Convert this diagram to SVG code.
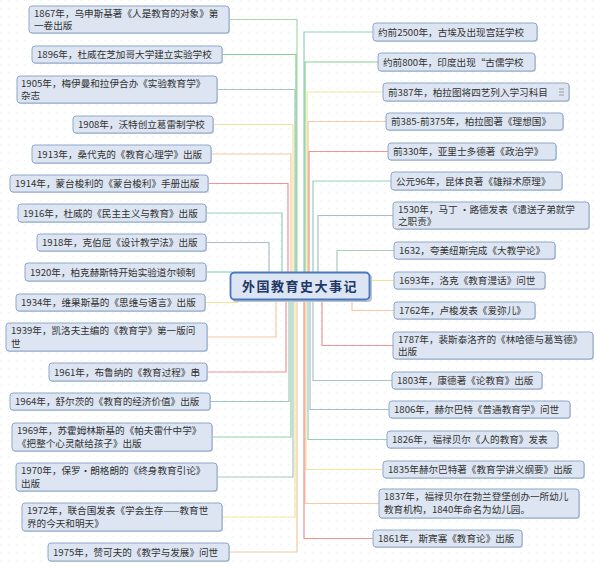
<svg xmlns="http://www.w3.org/2000/svg" width="600" height="567" viewBox="0 0 600 567">
<style>
.nb{fill:#dce5f1;stroke:#8ea8cb;stroke-width:1}
.sh{fill:#c9d0da}
.t{font-family:"Noto Sans CJK SC","Noto Sans",sans-serif;font-size:9.6px;fill:#333}
.c{fill:none;stroke-width:1.2}
.g1{stroke:#a9d9a4}.g2{stroke:#86cf8e}.tl{stroke:#92cfc4}.gr{stroke:#a3c8c4}.gb{stroke:#aabdcc}
.ye{stroke:#f2e39c}.or{stroke:#f6c8a3}.rd{stroke:#ee9494}.gg{stroke:#a9cfb0}.gt{stroke:#8fd3a0}
.ct{font-family:"Noto Sans CJK SC",sans-serif;font-size:13px;font-weight:bold;fill:#1f3864;letter-spacing:1.5px}
</style>
<defs>
<pattern id="dots" width="8" height="8" patternUnits="userSpaceOnUse">
<rect x="0" y="0" width="1" height="1" fill="#f0f0f0"/>
</pattern>
</defs>
<rect width="600" height="567" fill="#ffffff"/>
<rect width="600" height="567" fill="url(#dots)"/>

<g id="connectors">
<path class="c g1" d="M229,19.5H297V272"/>
<path class="c g2" d="M222,54.5H296V272"/>
<path class="c gr" d="M217,89.5H295V272"/>
<path class="c ye" d="M213,124.5H293V272"/>
<path class="c or" d="M211,154H291V272"/>
<path class="c rd" d="M208,183.5H288V272"/>
<path class="c tl" d="M206,213H282V272"/>
<path class="c gb" d="M206,242.5H269V272"/>
<path class="c tl" d="M206,272H232"/>
<path class="c ye" d="M205,302.5H238V299"/>
<path class="c or" d="M207,337H276V299"/>
<path class="c rd" d="M207,372H286V299"/>
<path class="c gr" d="M210,401.5H289V299"/>
<path class="c gt" d="M212,437H291V299"/>
<path class="c gr" d="M217,477H293V299"/>
<path class="c ye" d="M222,517H295V299"/>
<path class="c or" d="M229,552H297V299"/>

<path class="c tl" d="M304,272V32H373"/>
<path class="c g2" d="M305,272V62H378"/>
<path class="c ye" d="M307,272V92H383"/>
<path class="c or" d="M308,272V121.5H386"/>
<path class="c rd" d="M309,272V151.5H388"/>
<path class="c tl" d="M313,272V181H391"/>
<path class="c gb" d="M318,272V215.5H393"/>
<path class="c gg" d="M337,272V250.5H394"/>
<path class="c ye" d="M369,280.5H394"/>
<path class="c or" d="M352,299V310.5H394"/>
<path class="c rd" d="M322,299V345.5H393"/>
<path class="c gr" d="M313,299V380.5H392"/>
<path class="c gb" d="M310,299V409.5H389"/>
<path class="c tl" d="M308,299V439.5H387"/>
<path class="c ye" d="M306,299V469.5H383"/>
<path class="c or" d="M305,299V503.5H379"/>
<path class="c rd" d="M304,299V538.5H373"/>
</g>

<g id="center">
<rect x="232" y="274" width="140" height="28" rx="4" fill="#b9c4d4"/>
<rect x="230.5" y="272.5" width="139" height="27" rx="4" fill="#dbe5f3" stroke="#4a78bd" stroke-width="1.8"/>
<text class="ct" x="300" y="291" text-anchor="middle">外国教育史大事记</text>
</g>

<g id="n1867"><rect class="sh" x="30" y="7" width="200" height="27" rx="3"/><rect class="nb" x="29" y="6" width="200" height="27" rx="3"/><text class="t" x="34" y="16.5">1867年，乌申斯基著《人是教育的对象》第</text><text class="t" x="34" y="29">一卷出版</text></g>
<g id="n1896"><rect class="sh" x="33" y="47" width="190" height="17" rx="3"/><rect class="nb" x="32" y="46" width="190" height="17" rx="3"/><text class="t" x="37" y="58">1896年，杜威在芝加哥大学建立实验学校</text></g>
<g id="n1905"><rect class="sh" x="18" y="77" width="200" height="27" rx="3"/><rect class="nb" x="17" y="76" width="200" height="27" rx="3"/><text class="t" x="21" y="86.5">1905年，梅伊曼和拉伊合办《实验教育学》</text><text class="t" x="21" y="99">杂志</text></g>
<g id="n1908"><rect class="sh" x="74" y="117" width="140" height="17" rx="3"/><rect class="nb" x="73" y="116" width="140" height="17" rx="3"/><text class="t" x="78" y="128">1908年，沃特创立葛雷制学校</text></g>
<g id="n1913"><rect class="sh" x="33" y="146" width="179" height="18" rx="3"/><rect class="nb" x="32" y="145" width="179" height="18" rx="3"/><text class="t" x="37" y="158">1913年，桑代克的《教育心理学》出版</text></g>
<g id="n1914"><rect class="sh" x="11" y="176" width="198" height="17" rx="3"/><rect class="nb" x="10" y="175" width="198" height="17" rx="3"/><text class="t" x="15" y="187">1914年，蒙台梭利的《蒙台梭利》手册出版</text></g>
<g id="n1916"><rect class="sh" x="19" y="205" width="188" height="18" rx="3"/><rect class="nb" x="18" y="204" width="188" height="18" rx="3"/><text class="t" x="23" y="217">1916年，杜威的《民主主义与教育》出版</text></g>
<g id="n1918"><rect class="sh" x="38" y="235" width="169" height="17" rx="3"/><rect class="nb" x="37" y="234" width="169" height="17" rx="3"/><text class="t" x="42" y="246">1918年，克伯屈《设计教学法》出版</text></g>
<g id="n1920"><rect class="sh" x="26" y="264" width="181" height="18" rx="3"/><rect class="nb" x="25" y="263" width="181" height="18" rx="3"/><text class="t" x="30" y="276">1920年，柏克赫斯特开始实验道尔顿制</text></g>
<g id="n1934"><rect class="sh" x="17" y="295" width="189" height="17" rx="3"/><rect class="nb" x="16" y="294" width="189" height="17" rx="3"/><text class="t" x="21" y="306">1934年，维果斯基的《思维与语言》出版</text></g>
<g id="n1939"><rect class="sh" x="7" y="324" width="201" height="28" rx="3"/><rect class="nb" x="6" y="323" width="201" height="28" rx="3"/><text class="t" x="11" y="334">1939年，凯洛夫主编的《教育学》第一版问</text><text class="t" x="11" y="347">世</text></g>
<g id="n1961"><rect class="sh" x="50" y="364" width="158" height="18" rx="3"/><rect class="nb" x="49" y="363" width="158" height="18" rx="3"/><text class="t" x="54" y="376">1961年，布鲁纳的《教育过程》串</text></g>
<g id="n1964"><rect class="sh" x="11" y="394" width="200" height="17" rx="3"/><rect class="nb" x="10" y="393" width="200" height="17" rx="3"/><text class="t" x="15" y="405">1964年，舒尔茨的《教育的经济价值》出版</text></g>
<g id="n1969"><rect class="sh" x="13" y="424" width="200" height="28" rx="3"/><rect class="nb" x="12" y="423" width="200" height="28" rx="3"/><text class="t" x="17" y="434">1969年，苏霍姆林斯基的《帕夫雷什中学》</text><text class="t" x="17" y="447">《把整个心灵献给孩子》出版</text></g>
<g id="n1970"><rect class="sh" x="17" y="464" width="201" height="28" rx="3"/><rect class="nb" x="16" y="463" width="201" height="28" rx="3"/><text class="t" x="21" y="474">1970年，保罗·朗格朗的《终身教育引论》</text><text class="t" x="21" y="487">出版</text></g>
<g id="n1972"><rect class="sh" x="23" y="504" width="200" height="28" rx="3"/><rect class="nb" x="22" y="503" width="200" height="28" rx="3"/><text class="t" x="27" y="514">1972年，联合国发表《学会生存——教育世</text><text class="t" x="27" y="527">界的今天和明天》</text></g>
<g id="n1975"><rect class="sh" x="49" y="544" width="181" height="18" rx="3"/><rect class="nb" x="48" y="543" width="181" height="18" rx="3"/><text class="t" x="53" y="556">1975年，赞可夫的《教学与发展》问世</text></g>

<g id="nb2500"><rect class="sh" x="374" y="24" width="164" height="18" rx="3"/><rect class="nb" x="373" y="23" width="164" height="18" rx="3"/><text class="t" x="378" y="36">约前2500年，古埃及出现宫廷学校</text></g>
<g id="nb800"><rect class="sh" x="379" y="54" width="157" height="18" rx="3"/><rect class="nb" x="378" y="53" width="157" height="18" rx="3"/><text class="t" x="383" y="66">约前800年，印度出现“古儒学校</text></g>
<g id="nb387"><rect class="sh" x="384" y="84" width="186" height="18" rx="3"/><rect class="nb" x="383" y="83" width="186" height="18" rx="3"/><text class="t" x="388" y="96">前387年，柏拉图将四艺列入学习科目</text><path d="M559,89h5M559,92h5M559,95h5" stroke="#8a8a8a" stroke-width="0.8" fill="none"/></g>
<g id="nb385"><rect class="sh" x="387" y="114" width="177" height="17" rx="3"/><rect class="nb" x="386" y="113" width="177" height="17" rx="3"/><text class="t" x="391" y="125">前385-前375年，柏拉图著《理想国》</text></g>
<g id="nb330"><rect class="sh" x="389" y="144" width="168" height="17" rx="3"/><rect class="nb" x="388" y="143" width="168" height="17" rx="3"/><text class="t" x="393" y="155">前330年，亚里士多德著《政治学》</text></g>
<g id="n96"><rect class="sh" x="392" y="173" width="171" height="18" rx="3"/><rect class="nb" x="391" y="172" width="171" height="18" rx="3"/><text class="t" x="396" y="185">公元96年，昆体良著《雄辩术原理》</text></g>
<g id="n1530"><rect class="sh" x="394" y="203" width="196" height="27" rx="3"/><rect class="nb" x="393" y="202" width="196" height="27" rx="3"/><text class="t" x="398" y="212.5">1530年，马丁 ·路德发表《遣送子弟就学</text><text class="t" x="398" y="225">之职责》</text></g>
<g id="n1632"><rect class="sh" x="395" y="243" width="161" height="17" rx="3"/><rect class="nb" x="394" y="242" width="161" height="17" rx="3"/><text class="t" x="399" y="254">1632，夸美纽斯完成《大教学论》</text></g>
<g id="n1693"><rect class="sh" x="395" y="273" width="151" height="17" rx="3"/><rect class="nb" x="394" y="272" width="151" height="17" rx="3"/><text class="t" x="399" y="284">1693年，洛克《教育漫话》问世</text></g>
<g id="n1762"><rect class="sh" x="395" y="303" width="141" height="17" rx="3"/><rect class="nb" x="394" y="302" width="141" height="17" rx="3"/><text class="t" x="399" y="314">1762年，卢梭发表《爱弥儿》</text></g>
<g id="n1787"><rect class="sh" x="394" y="333" width="200" height="27" rx="3"/><rect class="nb" x="393" y="332" width="200" height="27" rx="3"/><text class="t" x="398" y="342.5">1787年，裴斯泰洛齐的《林哈德与葛笃德》</text><text class="t" x="398" y="355">出版</text></g>
<g id="n1803"><rect class="sh" x="393" y="373" width="150" height="17" rx="3"/><rect class="nb" x="392" y="372" width="150" height="17" rx="3"/><text class="t" x="397" y="384">1803年，康德著《论教育》出版</text></g>
<g id="n1806"><rect class="sh" x="390" y="402" width="181" height="17" rx="3"/><rect class="nb" x="389" y="401" width="181" height="17" rx="3"/><text class="t" x="394" y="413">1806年，赫尔巴特《普通教育学》问世</text></g>
<g id="n1826"><rect class="sh" x="388" y="432" width="171" height="17" rx="3"/><rect class="nb" x="387" y="431" width="171" height="17" rx="3"/><text class="t" x="392" y="443">1826年，福禄贝尔《人的教育》发表</text></g>
<g id="n1835"><rect class="sh" x="384" y="462" width="201" height="17" rx="3"/><rect class="nb" x="383" y="461" width="201" height="17" rx="3"/><text class="t" x="388" y="473">1835年赫尔巴特著《教育学讲义纲要》出版</text></g>
<g id="n1837"><rect class="sh" x="380" y="490" width="200" height="29" rx="3"/><rect class="nb" x="379" y="489" width="200" height="29" rx="3"/><text class="t" x="384" y="500">1837年，福禄贝尔在勃兰登堡创办一所幼儿</text><text class="t" x="384" y="513">教育机构，1840年命名为幼儿园。</text></g>
<g id="n1861"><rect class="sh" x="374" y="531" width="149" height="17" rx="3"/><rect class="nb" x="373" y="530" width="149" height="17" rx="3"/><text class="t" x="378" y="542">1861年，斯宾塞《教育论》出版</text></g>
</svg>
